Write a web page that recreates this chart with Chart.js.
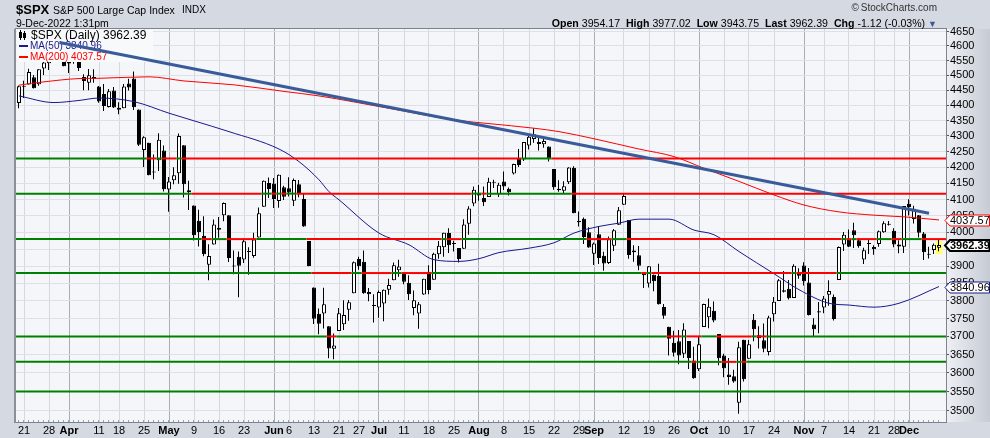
<!DOCTYPE html>
<html><head><meta charset="utf-8">
<script src="https://cdn.jsdelivr.net/npm/chart.js"></script>
<style>
html,body{margin:0;padding:0;background:#d5d9e1;}
#wrap{position:relative;width:990px;height:438px;overflow:hidden;font-family:"Liberation Sans",Arial,sans-serif;}
#c{position:absolute;left:0;top:0;}
.t{position:absolute;white-space:nowrap;color:#000;line-height:1;}
.r{text-align:right;}
b{font-weight:bold;}
</style></head><body>
<div id="wrap">
<canvas id="c" width="990" height="438"></canvas>
<div class="t" style="left:16px;top:3px;font-size:13px;font-weight:bold;">$SPX</div>
<div class="t" style="left:53px;top:5px;font-size:10.5px;">S&amp;P 500 Large Cap Index</div>
<div class="t" style="left:182px;top:5px;font-size:10px;">INDX</div>
<div class="t" style="left:16px;top:18px;font-size:10.5px;">9-Dec-2022 1:31pm</div>
<div class="t r" style="right:53px;top:3px;font-size:10px;color:#333;">&copy;&thinsp;StockCharts.com</div>
<div class="t r" style="right:53px;top:17.5px;font-size:10.6px;"><b>Open</b> 3954.17&nbsp; <b>High</b> 3977.02&nbsp; <b>Low</b> 3943.75&nbsp; <b>Last</b> 3962.39&nbsp; <b>Chg</b> -1.12 (-0.03%) <span style="color:#3a5b99;font-size:9px;">&#9660;</span></div>
</div>
<script>
// ---------- data ----------
const dates = ['3/18','3/21','3/22','3/23','3/24','3/25','3/28','3/29','3/30','3/31',
'4/1','4/4','4/5','4/6','4/7','4/8','4/11','4/12','4/13','4/14','4/18','4/19','4/20','4/21','4/22','4/25','4/26','4/27','4/28','4/29',
'5/2','5/3','5/4','5/5','5/6','5/9','5/10','5/11','5/12','5/13','5/16','5/17','5/18','5/19','5/20','5/23','5/24','5/25','5/26','5/27','5/31',
'6/1','6/2','6/3','6/6','6/7','6/8','6/9','6/10','6/13','6/14','6/15','6/16','6/17','6/21','6/22','6/23','6/24','6/27','6/28','6/29','6/30',
'7/1','7/5','7/6','7/7','7/8','7/11','7/12','7/13','7/14','7/15','7/18','7/19','7/20','7/21','7/22','7/25','7/26','7/27','7/28','7/29',
'8/1','8/2','8/3','8/4','8/5','8/8','8/9','8/10','8/11','8/12','8/15','8/16','8/17','8/18','8/19','8/22','8/23','8/24','8/25','8/26','8/29','8/30','8/31',
'9/1','9/2','9/6','9/7','9/8','9/9','9/12','9/13','9/14','9/15','9/16','9/19','9/20','9/21','9/22','9/23','9/26','9/27','9/28','9/29','9/30',
'10/3','10/4','10/5','10/6','10/7','10/10','10/11','10/12','10/13','10/14','10/17','10/18','10/19','10/20','10/21','10/24','10/25','10/26','10/27','10/28','10/31',
'11/1','11/2','11/3','11/4','11/7','11/8','11/9','11/10','11/11','11/14','11/15','11/16','11/17','11/18','11/21','11/22','11/23','11/25','11/28','11/29','11/30',
'12/1','12/2','12/5','12/6','12/7','12/8','12/9'];

const open = [4407.34,4462.40,4469.10,4493.10,4469.98,4522.66,4541.09,4602.86,4624.20,4599.02,
4540.32,4547.97,4572.45,4494.17,4474.65,4494.15,4462.64,4437.59,4394.30,4449.12,4385.63,4390.63,4472.26,4489.17,4385.83,4255.34,4278.14,4186.52,4222.58,4253.75,
4130.61,4159.78,4181.18,4270.43,4128.17,4081.27,4035.18,3990.08,3903.95,3963.90,4013.02,4052.00,4051.98,3899.00,3927.76,3919.42,3942.94,3929.59,3984.60,4077.43,4151.09,
4149.78,4095.41,4137.57,4134.72,4096.47,4147.12,4101.65,3974.39,3838.15,3763.52,3764.05,3728.18,3665.90,3715.31,3733.89,3774.71,3821.75,3920.76,3913.00,3825.09,3785.99,
3781.00,3792.61,3831.98,3858.85,3888.26,3880.94,3851.95,3779.67,3763.99,3818.00,3883.79,3860.73,3935.32,3955.47,3998.43,3965.72,3953.22,3951.43,4026.13,4087.33,
4112.38,4104.21,4107.96,4154.85,4115.87,4155.93,4133.11,4181.02,4227.40,4225.02,4269.37,4290.46,4280.40,4273.13,4266.31,4195.08,4133.09,4126.55,4153.26,4198.74,4034.58,4041.25,4000.67,
3936.73,3994.66,3930.89,3909.43,3959.94,4022.94,4083.67,4037.12,3940.73,3932.41,3880.95,3849.91,3875.23,3871.40,3782.36,3727.14,3682.72,3686.44,3651.94,3687.01,3633.48,
3609.78,3726.46,3753.25,3771.97,3706.74,3647.51,3595.86,3590.83,3520.37,3690.41,3638.65,3746.26,3703.11,3689.05,3657.10,3762.01,3799.44,3825.97,3834.69,3808.26,3881.85,
3901.79,3852.90,3733.25,3766.98,3780.71,3817.02,3810.94,3859.89,3963.72,3977.97,4006.41,3976.82,3919.26,3966.39,3956.23,3965.51,4000.30,4023.34,4005.36,3964.19,3957.18,
4087.14,4040.17,4052.02,3996.63,3933.28,3947.79,3954.17];

const high = [4465.40,4481.75,4522.00,4501.07,4520.58,4546.03,4575.65,4637.30,4627.77,4603.07,
4548.70,4583.50,4593.45,4503.94,4521.16,4520.41,4464.35,4471.00,4453.92,4460.46,4410.31,4471.03,4488.29,4512.94,4385.83,4299.02,4278.14,4240.71,4308.45,4269.68,
4169.81,4200.10,4307.66,4270.43,4157.69,4081.27,4068.82,4049.09,3964.80,4038.88,4046.46,4090.72,4051.98,3945.96,3943.42,3981.88,3955.68,3999.33,4075.14,4158.49,4168.34,
4166.54,4177.51,4142.67,4168.78,4164.86,4160.14,4119.10,3974.39,3838.15,3778.18,3837.56,3728.18,3707.71,3779.65,3801.79,3802.58,3913.65,3927.72,3945.86,3836.50,3818.99,
3829.82,3832.19,3863.37,3910.63,3918.50,3880.94,3873.41,3829.44,3796.41,3863.62,3902.44,3939.81,3974.13,3999.29,4012.44,3975.30,3953.22,4039.56,4078.95,4140.15,
4144.95,4140.47,4167.66,4161.29,4151.58,4186.62,4137.30,4211.03,4257.91,4280.47,4301.79,4325.28,4302.18,4292.53,4266.31,4195.08,4159.77,4156.56,4200.54,4203.04,4062.99,4044.98,4015.37,
3970.23,4018.43,3942.55,3987.89,4010.50,4076.81,4119.28,4037.12,3961.94,3959.14,3880.95,3900.45,3876.01,3907.07,3790.78,3727.14,3715.67,3717.53,3736.74,3687.01,3671.44,
3698.35,3791.92,3806.91,3797.93,3706.74,3652.17,3640.66,3608.34,3685.41,3690.41,3689.73,3762.79,3728.58,3736.00,3757.89,3810.74,3862.85,3886.15,3859.95,3905.42,3893.73,
3911.79,3894.44,3750.59,3796.34,3813.95,3859.40,3818.20,3958.33,4001.48,4008.97,4028.84,3983.09,3954.33,3979.89,3962.00,4005.88,4033.78,4034.02,4012.27,3976.77,4080.11,
4100.51,4080.48,4052.45,4001.51,3957.57,3966.64,3977.02];

const low = [4390.57,4424.30,4469.10,4455.81,4465.17,4501.07,4517.69,4589.66,4581.32,4530.41,
4507.57,4539.21,4514.17,4450.04,4450.30,4474.60,4408.38,4381.34,4392.70,4390.77,4370.30,4390.63,4448.76,4384.47,4267.62,4200.82,4175.04,4162.90,4188.63,4124.28,
4062.51,4147.08,4148.91,4106.01,4067.91,3975.48,3958.17,3928.82,3858.87,3963.90,3983.99,4033.93,3911.91,3876.58,3810.32,3909.04,3875.13,3925.03,3984.60,4077.43,4104.88,
4073.85,4074.37,4098.67,4109.18,4080.19,4107.20,4017.17,3900.16,3734.30,3705.68,3722.30,3639.77,3636.87,3715.31,3717.69,3743.52,3821.75,3889.66,3820.14,3799.02,3738.67,
3752.10,3742.06,3817.18,3858.85,3869.34,3847.22,3802.36,3759.07,3721.56,3817.18,3818.63,3860.73,3922.03,3927.64,3938.85,3943.46,3910.74,3951.43,3992.97,4079.22,
4096.02,4079.81,4107.96,4135.42,4107.31,4128.97,4112.09,4177.26,4201.41,4219.78,4256.90,4277.77,4253.08,4261.98,4218.70,4129.86,4124.03,4119.97,4147.59,4057.66,4017.42,3965.21,3954.53,
3903.65,3906.21,3886.75,3906.03,3944.81,4022.94,4083.67,3921.67,3912.93,3888.28,3837.08,3838.50,3827.54,3789.49,3749.45,3647.47,3644.76,3623.29,3640.61,3610.40,3584.13,
3604.93,3726.46,3722.66,3739.22,3620.73,3588.10,3568.45,3573.86,3491.58,3576.71,3638.65,3686.53,3666.51,3656.44,3647.42,3741.65,3799.44,3824.07,3803.79,3808.26,3863.18,
3843.80,3758.68,3698.15,3708.84,3764.70,3786.28,3744.22,3859.89,3944.82,3956.40,3953.17,3954.34,3906.54,3935.98,3933.34,3956.88,3998.66,4020.76,3955.77,3937.65,3938.58,
4050.87,4026.63,3984.49,3918.39,3922.68,3935.83,3943.75];

const close = [4463.12,4461.18,4511.61,4456.24,4520.16,4543.06,4575.52,4631.60,4602.45,4530.41,
4545.86,4582.64,4525.12,4481.15,4500.21,4488.28,4412.53,4397.45,4446.59,4392.59,4391.69,4462.21,4459.45,4393.66,4271.78,4296.12,4175.20,4183.96,4287.50,4131.93,
4155.38,4175.48,4300.17,4146.87,4123.34,3991.24,4001.05,3935.18,3930.08,4023.89,4008.01,4088.85,3923.68,3900.79,3901.36,3973.75,3941.48,3978.73,4057.84,4158.24,4132.15,
4101.23,4176.82,4108.54,4121.43,4160.68,4115.77,4017.82,3900.86,3749.63,3735.48,3789.99,3666.77,3674.84,3764.79,3759.89,3795.73,3911.74,3900.11,3821.55,3818.83,3785.38,
3825.33,3831.39,3845.08,3902.62,3899.38,3854.43,3818.80,3801.78,3790.38,3863.16,3830.85,3936.69,3959.90,3998.95,3961.63,3966.84,3921.05,4023.61,4072.43,4130.29,
4118.63,4091.19,4155.17,4151.94,4145.19,4140.06,4122.47,4210.24,4207.27,4280.15,4297.14,4305.20,4274.04,4283.74,4228.48,4137.99,4128.73,4140.77,4199.12,4057.66,4030.61,3986.16,3955.00,
3966.85,3924.26,3908.19,3979.87,4006.18,4067.36,4110.41,3932.69,3946.01,3901.35,3873.33,3899.89,3855.93,3789.93,3757.99,3693.23,3655.04,3647.29,3719.04,3640.47,3585.62,
3678.43,3790.93,3783.28,3744.52,3639.66,3612.39,3588.84,3577.03,3669.91,3583.07,3677.95,3719.98,3695.16,3665.78,3752.75,3797.34,3859.11,3830.60,3807.30,3901.06,3871.98,
3856.10,3759.69,3719.89,3770.55,3806.80,3828.11,3748.57,3956.37,3992.93,3957.25,3991.73,3958.79,3946.56,3965.34,3949.94,4003.58,4027.26,4026.12,3963.94,3957.63,4080.11,
4076.57,4071.70,3998.84,3941.26,3933.92,3963.51,3962.39];

// x-axis labels (index into dates) and their text
const tickIdx  = [1,6,10,16,20,25,30,35,40,45,51,54,59,64,68,72,77,82,87,92,97,102,107,112,115,121,126,131,136,141,146,151,157,161,166,171,175,178];
const tickText = ['21','28','Apr','11','18','25','May','9','16','23','Jun','6','13','21','27','Jul','11','18','25','Aug','8','15','22','29','Sep','12','19','26','Oct','10','17','24','Nov','7','14','21','28','Dec'];
// y-axis tick values
const yTicks = [3500,3550,3600,3650,3700,3750,3800,3850,3900,3950,4000,4050,4100,4150,4200,4250,4300,4350,4400,4450,4500,4550,4600,4650];
// horizontal support/resistance levels
const levels = [4228,4118,3980,3880,3700,3630,3550];
// moving averages, read at sample days
const ma50Idx = [0,7,12,16,23,30,35,42,52,56,60,62,64,72,78,83,88,92,96,102,107,111,116,120,124,130,135,139,144,151,156,162,166,171,176,184];
const ma50Val = [4431,4409,4416,4424,4412,4374,4349,4314,4258,4218,4161,4124,4099,3998,3963,3919,3914,3922,3940,3953,3969,3998,4018,4028,4040,4040,4007,3993,3943,3878,3832,3793,3788,3782,3793,3840.96];
const ma200Idx = [0,5,12,16,26,33,43,53,60,74,87,94,103,108,115,124,131,137,144,151,157,164,171,177,184];
const ma200Val = [4467,4478,4489,4490,4495,4481,4468,4446,4431,4390,4352,4340,4325,4314,4291,4258,4234,4197,4156,4114,4083,4062,4052,4047,4037.57];
// trend line endpoints
const trendIdx = [8.1,182];
const trendVal = [4612,4058];
// price markers on the right axis
const markerVals   = [4037.57,3962.39,3840.96];
const markerColors = ['#ff0000','#000000','#1a1a8c'];

// ---------- chart ----------
const n = dates.length;
const xMin = -0.6, xMax = 185.4;
const yMin = 3470, yMax = 4659;
const GREEN = '#008000', RED = '#ff0000';
const monthTick = i => isNaN(Number(tickText[i]));

const idx = dates.map((_, i) => i);
const segX = [xMin].concat(idx.slice(1).map(i => i - 0.5), [xMax]);

const datasets = [];
datasets.push({ type:'line', label:'trend', data: trendIdx.map((x,k)=>({x, y:trendVal[k]})),
  borderColor:'#3a5b99', borderWidth:3, pointRadius:0, order:0 });
levels.forEach(L => datasets.push({ type:'line', label:'lvl'+L, data: segX.map(x=>({x, y:L})),
  borderWidth:2, borderColor:GREEN, pointRadius:0, order:2,
  segment:{ borderColor: ctx => close[ctx.p0DataIndex] >= L ? GREEN : RED } }));
datasets.push({ type:'line', label:'ma50', data: ma50Idx.map((x,k)=>({x, y:ma50Val[k]})),
  borderColor:'#1a1a8c', borderWidth:1, pointRadius:0, cubicInterpolationMode:'monotone', order:3 });
datasets.push({ type:'line', label:'ma200', data: ma200Idx.map((x,k)=>({x, y:ma200Val[k]})),
  borderColor:'#ff0000', borderWidth:1, pointRadius:0, cubicInterpolationMode:'monotone', order:4 });
datasets.push({ type:'bar', label:'body', data: idx.map(i=>({x:i, y:[open[i], close[i]]})),
  backgroundColor: idx.map(i => close[i] >= open[i] ? '#ffffff' : '#000000'),
  borderColor:'#000', borderWidth:1, borderSkipped:false, minBarLength:1, inflateAmount:0,
  grouped:false, barPercentage:1, categoryPercentage:1, maxBarThickness:4, order:5 });
datasets.push({ type:'bar', label:'wick', data: idx.map(i=>({x:i, y:[low[i], high[i]]})),
  backgroundColor:'#000', borderWidth:0, inflateAmount:0, grouped:false,
  barPercentage:1, categoryPercentage:1, maxBarThickness:1, order:6 });
const TREND = 0, WICK = datasets.length - 1;

function drawLegend(chart){
  const ctx = chart.ctx;
  ctx.save();
  ctx.fillStyle = '#f8f9fb';
  ctx.fillRect(17, 30, 136, 32);
  // candle glyph
  ctx.fillStyle = '#000';
  ctx.fillRect(20, 30, 1, 10); ctx.fillRect(19, 32, 3, 6);
  ctx.fillRect(24, 31, 1, 9); ctx.strokeStyle='#000'; ctx.lineWidth=1; ctx.strokeRect(23.5, 33.5, 2, 4);
  ctx.fillStyle = '#000';
  ctx.font = '12px "Liberation Sans", Arial';
  ctx.textBaseline = 'middle';
  ctx.fillText('$SPX (Daily) 3962.39', 31, 35.5);
  ctx.font = '10px "Liberation Sans", Arial';
  ctx.fillStyle = '#1a1a8c'; ctx.fillRect(19, 45, 9, 2); ctx.fillText('MA(50) 3840.96', 30, 46.5);
  ctx.fillStyle = '#ff0000'; ctx.fillRect(19, 56, 9, 2); ctx.fillText('MA(200) 4037.57', 30, 57.5);
  ctx.restore();
}

const deco = {
  id:'deco',
  beforeDraw(chart){
    const {ctx, chartArea:a} = chart;
    ctx.save();
    ctx.fillStyle = '#d5d9e1'; ctx.fillRect(0,0,chart.width,chart.height);
    const g = ctx.createLinearGradient(a.right,0,chart.width,0);
    g.addColorStop(0,'#eef0f4'); g.addColorStop(1,'#c6cbd4');
    ctx.fillStyle = g; ctx.fillRect(a.right, a.top, chart.width-a.right, a.bottom-a.top);
    ctx.fillStyle = '#f4f6fa'; ctx.fillRect(a.left,a.top,a.right-a.left,a.bottom-a.top);
    ctx.restore();
  },
  beforeDatasetsDraw(chart){
    const {ctx, scales:{x,y}} = chart;
    const i = n - 1;
    const px = x.getPixelForValue(i);
    ctx.save(); ctx.fillStyle = '#ffff70';
    const t = y.getPixelForValue(high[i]), b = y.getPixelForValue(low[i]);
    ctx.fillRect(px-3.5, t+1, 7, b-t+2);
    ctx.restore();
  },
  beforeDatasetDraw(chart, args){
    if (args.index === TREND) drawLegend(chart);
    if (args.index === WICK) { chart.ctx.save(); chart.ctx.translate(-0.5,0); }
  },
  afterDatasetDraw(chart, args){
    if (args.index === WICK) chart.ctx.restore();
  },
  afterDraw(chart){
    const {ctx, chartArea:a, scales:{x,y}} = chart;
    ctx.save();
    // day ticks along bottom
    ctx.fillStyle = '#9aa0aa';
    idx.forEach(i => { ctx.fillRect(Math.round(x.getPixelForValue(i))-1, a.bottom-2, 1, 2); });
    // frame
    ctx.strokeStyle = '#7d838e'; ctx.lineWidth = 1;
    ctx.strokeRect(a.left-0.5, a.top-0.5, a.right-a.left+1, a.bottom-a.top+1);
    ctx.fillStyle = '#8a909a'; ctx.fillRect(a.left-2, a.top, 2, a.bottom-a.top+1);
    // price markers
    markerVals.forEach((v,k) => {
      const py = Math.round(y.getPixelForValue(v)) + 0.5;
      const bold = k === 1;
      ctx.beginPath();
      ctx.moveTo(a.right-1, py);
      ctx.lineTo(a.right+4, py-5.5);
      ctx.lineTo(989.5, py-5.5);
      ctx.lineTo(989.5, py+5.5);
      ctx.lineTo(a.right+4, py+5.5);
      ctx.closePath();
      ctx.fillStyle = '#ffffff'; ctx.fill();
      ctx.strokeStyle = markerColors[k]; ctx.lineWidth = bold ? 2 : 1; ctx.stroke();
      ctx.fillStyle = '#000';
      ctx.font = (bold ? 'bold ' : '') + '11px "Liberation Sans", Arial';
      ctx.textBaseline = 'middle';
      ctx.fillText(String(v.toFixed(2)), a.right+4, py+0.5);
    });
    ctx.restore();
  }
};

new Chart(document.getElementById('c'), {
  type:'line',
  data:{ datasets },
  plugins:[deco],
  options:{
    responsive:false, animation:false, devicePixelRatio:1, events:[],
    layout:{ padding:{ left:16, top:29, right:0, bottom:0 } },
    plugins:{ legend:{display:false}, tooltip:{enabled:false} },
    scales:{
      x:{ type:'linear', min:xMin, max:xMax, bounds:'data', offset:false,
        afterBuildTicks: s => { s.ticks = tickIdx.map(v => ({value:v})); },
        afterFit: s => { s.height = 16; },
        grid:{ offset:false, drawTicks:false, color: ctx => monthTick(ctx.index) ? '#a9adb6' : '#d5d8df' },
        border:{ display:true, color:'#7d838e' },
        ticks:{ autoSkip:false, maxRotation:0, padding:2, color:'#000',
          font: ctx => ({ family:'"Liberation Sans", Arial', size:11, weight: monthTick(ctx.index) ? 'bold' : 'normal' }),
          callback: (v,i) => tickText[i] }
      },
      y:{ type:'logarithmic', position:'right', min:yMin, max:yMax, bounds:'data',
        afterBuildTicks: s => { s.ticks = yTicks.map(v => ({value:v})); },
        afterFit: s => { s.width = 44; },
        grid:{ color:'#dde0e6', drawTicks:true, tickLength:3, tickColor:'#555' },
        border:{ display:true, color:'#7d838e' },
        ticks:{ autoSkip:false, padding:1, color:'#000', font:{ family:'"Liberation Sans", Arial', size:11 },
          callback: v => String(v) }
      }
    }
  }
});
</script>
</body></html>
